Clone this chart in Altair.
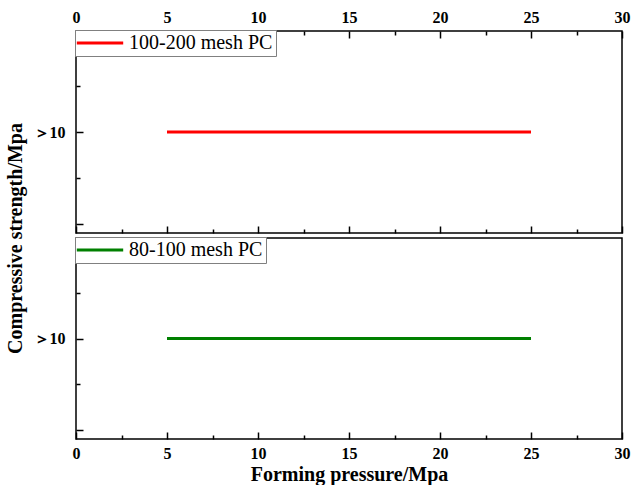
import altair as alt
import pandas as pd

# Data
pressure = [5, 10, 15, 20, 25]
strength_100_200 = [10, 10, 10, 10, 10]
strength_80_100 = [10, 10, 10, 10, 10]
series_names = ["100-200 mesh PC", "80-100 mesh PC"]
series_colors = ["#ff0000", "#008000"]
x_major = [0, 5, 10, 15, 20, 25, 30]
x_minor = [2.5, 7.5, 12.5, 17.5, 22.5, 27.5]
y_major = [0, 10, 20]
y_minor = [5, 15]

FONT = "Liberation Serif"
W = 546
MAJ = 7
MIN = 4


def xax(orient, values, size, labels, title=None):
    kw = dict(orient=orient, values=values, tickSize=size, offset=-size, domain=False,
              grid=False, labels=labels, tickColor="#000000", tickWidth=1.5,
              labelFont=FONT, labelFontSize=16, labelFontWeight="bold", labelColor="#000000",
              labelPadding=6, format="d", labelFlush=False)
    if title:
        kw.update(title=title, titleFont=FONT, titleFontSize=20, titleFontWeight="bold",
                  titleColor="#000000", titlePadding=3)
    else:
        kw.update(title=None)
    return alt.Axis(**kw)


def yax(values, size, labels):
    return alt.Axis(orient="left", values=values, tickSize=size, offset=-size, domain=False,
                    grid=False, labels=labels, title=None, tickColor="#000000", tickWidth=1.5,
                    labelExpr="datum.value == 10 ? '＞10' : ''",
                    labelFont=FONT, labelFontSize=16, labelFontWeight="bold",
                    labelColor="#000000", labelPadding=11)


def panel(strength, name, color, top, height):
    df = pd.DataFrame({"pressure": pressure, "strength": strength, "series": [name] * len(pressure)})
    base = alt.Chart(df)
    xs = alt.Scale(domain=[0, 30], nice=False, zero=False)
    ys = alt.Scale(domain=[-1, 21], nice=False, zero=False)

    def X(axis):
        return alt.X("pressure:Q", scale=xs, axis=axis)

    def Y(axis):
        return alt.Y("strength:Q", scale=ys, axis=axis)

    if top:
        xa1 = xax("top", x_major, MAJ, True)
        xa2 = xax("top", x_minor, MIN, False)
        xa3 = xax("bottom", x_major, MAJ, False)
        xa4 = xax("bottom", x_minor, MIN, False)
    else:
        xa1 = xax("bottom", x_major, MAJ, True, "Forming pressure/Mpa")
        xa2 = xax("bottom", x_minor, MIN, False)
        xa3 = None
        xa4 = None

    line = base.mark_line(strokeWidth=3).encode(
        x=X(xa1), y=Y(yax(y_major, MAJ, True)),
        color=alt.Color("series:N", scale=alt.Scale(domain=[name], range=[color]),
                        legend=alt.Legend(title=None, orient="none", legendX=-1, legendY=-1,
                                          symbolType="M-2.9,0H2.9", symbolStrokeWidth=3,
                                          symbolSize=256, symbolOffset=12,
                                          labelFont=FONT, labelFontSize=20,
                                          labelColor="#000000", strokeColor="#808080",
                                          fillColor="#ffffff", padding=3, labelOffset=19,
                                          cornerRadius=0)))
    layers = [line,
              base.mark_line(opacity=0).encode(x=X(xa2), y=Y(yax(y_minor, MIN, False)))]
    if xa3 is not None:
        layers.append(base.mark_line(opacity=0).encode(x=X(xa3), y=Y(None)))
        layers.append(base.mark_line(opacity=0).encode(x=X(xa4), y=Y(None)))
    return alt.layer(*layers).resolve_axis(x="independent", y="independent").properties(
        width=W, height=height)


top_panel = panel(strength_100_200, series_names[0], series_colors[0], True, 202)
bottom_panel = panel(strength_80_100, series_names[1], series_colors[1], False, 201)

chart = alt.vconcat(top_panel, bottom_panel, spacing=0).resolve_scale(
    color="independent").properties(
    title=alt.TitleParams("Compressive strength/Mpa", orient="left", anchor="middle",
                          font=FONT, fontSize=20, fontWeight="bold", color="#000000",
                          offset=6, dx=8),
    padding={"left": 6, "top": 8, "right": 0, "bottom": 0},
    background="#ffffff",
).configure_view(stroke="#000000", strokeWidth=1.5)

chart.save("out.html", embed_options={"renderer": "svg", "actions": False})
